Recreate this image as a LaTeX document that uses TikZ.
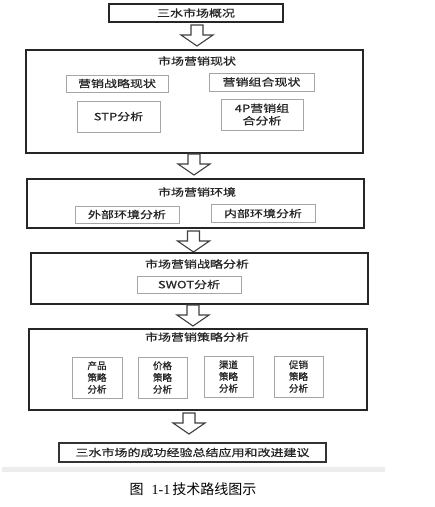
\documentclass[tikz,border=0pt]{standalone}
\usepackage{fontspec}
\setmainfont{Liberation Serif}
\newfontfamily\cjk[FakeStretch=1.3,FakeBold=0.8]{Noto Sans CJK SC}
\newfontfamily\cjks[FakeBold=0.8]{Noto Sans CJK SC}
\newfontfamily\cjkn{Noto Sans CJK SC}
\begin{document}
\begin{tikzpicture}[x=1pt,y=-1pt,
  outer/.style={draw=black!85,line width=1.3pt,rectangle,inner sep=0pt},
  inner/.style={draw=black!35,line width=0.9pt,rectangle,inner sep=0pt,text=black!85,font=\cjk\fontsize{10}{12}\selectfont},
  stack/.style={draw=black!35,line width=0.9pt,rectangle,inner sep=0pt,text=black!85,align=center,font=\cjks\fontsize{9.5}{11.8}\selectfont},
  title/.style={text=black!85,inner sep=0pt,font=\cjk\fontsize{10}{12}\selectfont},
  darr/.pic={\draw[black!75,line width=1.1pt,fill=white,line join=miter]
     (-6,0) -- (6,0) -- (6,10) -- (16,10) -- (0,21) -- (-16,10) -- (-6,10) -- cycle;}
]
\useasboundingbox (0,0) rectangle (435,507);
\fill[white] (0,0) rectangle (435,507);

% top box
\node[outer,minimum width=174pt,minimum height=18pt,text=black!85,font=\cjk\fontsize{10}{12}\selectfont] (top) at (196,13) {三水市场概况};
\pic at (197,25) {darr};

% box 2
\node[outer,minimum width=337pt,minimum height=103pt] (b2) at (194.5,101.5) {};
\node[title] (b2t) at (197,61) {市场营销现状};
\node[inner,minimum width=102pt,minimum height=17pt] (b2a) at (117,83.5) {营销战略现状};
\node[inner,minimum width=105pt,minimum height=18pt] (b2b) at (261.5,82) {营销组合现状};
\node[inner,minimum width=83pt,minimum height=31pt] (b2c) at (118.5,116.5) {STP分析};
\node[inner,minimum width=82pt,minimum height=31pt,align=center,font=\cjk\fontsize{10}{12.5}\selectfont] (b2d) at (262,114.5) {4P营销组\\合分析};
\pic at (194,154) {darr};

% box 3
\node[outer,minimum width=337pt,minimum height=49pt] (b3) at (195.5,203.5) {};
\node[title] (b3t) at (197,192) {市场营销环境};
\node[inner,minimum width=104pt,minimum height=17pt] (b3a) at (127,214.5) {外部环境分析};
\node[inner,minimum width=104pt,minimum height=18pt] (b3b) at (263,213.5) {内部环境分析};
\pic at (193.5,231) {darr};

% box 4
\node[outer,minimum width=337pt,minimum height=51pt] (b4) at (199.5,278.5) {};
\node[title] (b4t) at (197,264) {市场营销战略分析};
\node[inner,minimum width=104pt,minimum height=17pt] (b4a) at (189,284.5) {SWOT分析};
\pic at (193,305) {darr};

% box 5
\node[outer,minimum width=338pt,minimum height=81pt] (b5) at (198,369.5) {};
\node[title] (b5t) at (197,337) {市场营销策略分析};
\node[stack,minimum width=50pt,minimum height=41pt] (b5a) at (97,377.5) {产品\\策略\\分析};
\node[stack,minimum width=49pt,minimum height=41pt] (b5b) at (162.5,377.5) {价格\\策略\\分析};
\node[stack,minimum width=49pt,minimum height=41pt] (b5c) at (228.5,376.5) {渠道\\策略\\分析};
\node[stack,minimum width=49pt,minimum height=41pt] (b5d) at (298.5,376.5) {促销\\策略\\分析};
\pic at (189,413) {darr};

% final box
\node[outer,draw=black!80,minimum width=267pt,minimum height=19pt,text=black!85,font=\cjk\fontsize{10}{12}\selectfont] (fin) at (192.5,452.5) {三水市场的成功经验总结应用和改进建议};

% gray band
\fill[black!7] (2,467) rectangle (385,472);

% caption
\node[inner sep=0pt,font=\fontsize{14}{16}\selectfont] (cap) at (193,489) {{\cjkn 图}\hspace{8pt}1-1\hspace{2pt}{\cjkn 技术路线图示}};
\end{tikzpicture}
\end{document}
